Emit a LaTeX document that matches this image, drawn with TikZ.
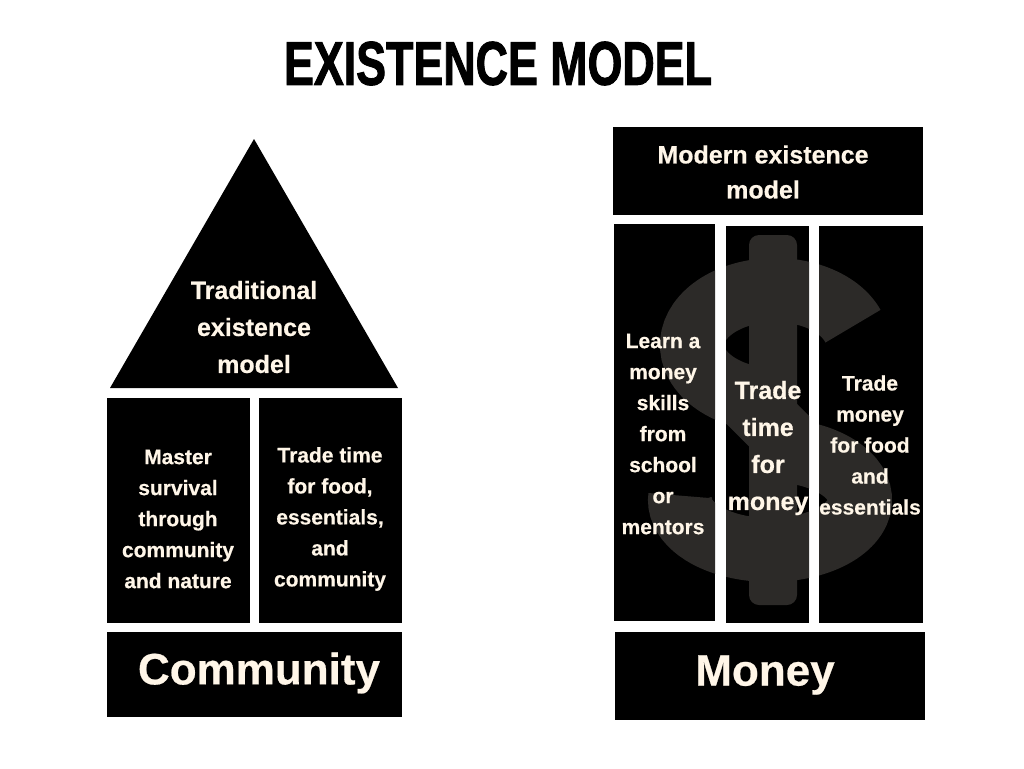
\documentclass[tikz,border=0pt]{standalone}
\usepackage{graphicx}
\usepackage{fontspec}
\usetikzlibrary{calc}
\setmainfont{Liberation Sans}[BoldFeatures={FakeBold=0.5}]
\newfontfamily\titlefont{Liberation Sans}[BoldFeatures={FakeBold=1.8}]
\definecolor{cream}{RGB}{255,246,232}
\definecolor{dollarc}{RGB}{44,42,40}
\begin{document}
\begin{tikzpicture}[x=1pt,y=-1pt,
  txt/.style n args={2}{text=cream,align=center,inner sep=0pt,font=\bfseries\fontsize{#1}{#2}\selectfont},
  blk/.style={fill=black}]
\useasboundingbox[fill=white] (0,0) rectangle (1024,768);

% title
\node[inner sep=0pt] (title) at (498,63.5) {\resizebox{428pt}{43pt}{\titlefont\bfseries EXISTENCE MODEL}};

% ---------- left house ----------
\fill[blk] (254,139) -- (398,388) -- (110,388) -- cycle;
\fill[blk] (107,398) rectangle (250,623);
\fill[blk] (259,398) rectangle (402,623);
\fill[blk] (107,632) rectangle (402,717);

\node[txt={25}{37}] (trad) at (254,327) {Traditional\\existence\\model};
\node[txt={21}{31}] (master) at (178,519) {Master\\survival\\through\\community\\and nature};
\node[txt={21}{31}] (tradetime) at (330,519) {Trade time\\for food,\\essentials,\\and\\community};
\node[txt={44}{44}] (community) at (259,673) {Community};

% ---------- right house ----------
\fill[blk] (613,127) rectangle (923,215);
\fill[blk] (614,224) rectangle (715,621);
\fill[blk] (726,226) rectangle (809,623);
\fill[blk] (819,226) rectangle (923,623);
\fill[blk] (615,632) rectangle (925,720);

% dollar sign behind columns
\begin{scope}
\clip (614,224) rectangle (715,621) (726,226) rectangle (809,623) (819,226) rectangle (923,623);
\fill[dollarc, rounded corners=10] (749,235) rectangle (797,605);
\draw[dollarc, line width=64, line cap=butt]
  (775,345) ++(-20:83 and 55)
  arc[start angle=-20, end angle=-248, x radius=83, y radius=55]
  -- ($(770,500)+(290:90 and 50)$)
  arc[start angle=290, end angle=545, x radius=90, y radius=50];
\end{scope}

\node[txt={25}{35}] (modern) at (763,172) {Modern existence\\model};
\node[txt={21}{31}] (learn) at (663,434) {Learn a\\money\\skills\\from\\school\\or\\mentors};
\node[txt={25}{37}] (ttm) at (768,448) {Trade\\time\\for\\money};
\node[txt={21}{31}] (tmf) at (870,445) {Trade\\money\\for food\\and\\essentials};
\node[txt={44}{44}] (money) at (765,675) {Money};
\end{tikzpicture}
\end{document}
